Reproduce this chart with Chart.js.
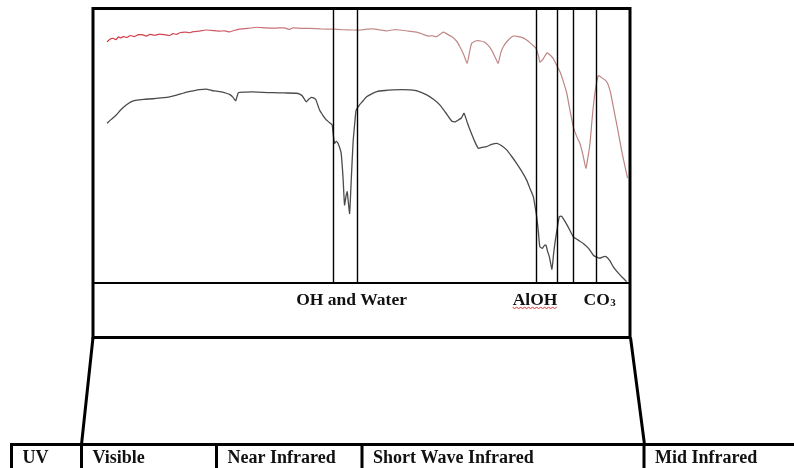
<!DOCTYPE html>
<html>
<head>
<meta charset="utf-8">
<script src="https://cdn.jsdelivr.net/npm/chart.js@4.4.1/dist/chart.umd.min.js"></script>
<style>
  html, body { margin: 0; padding: 0; background: #ffffff; }
  #wrap { width: 794px; height: 468px; position: relative; }
</style>
</head>
<body>
<div id="wrap"><canvas id="c" width="794" height="468"></canvas></div>
<script>
// ---- Data (wavelength in nm, relative reflectance) ----
const redWavelengths = [348,360,373,385,395,405,414,430,445,460,478,496,510,525,545,565,585,606,620,635,648,670,690,703,730,756,785,813,835,854,875,895,930,964,1000,1046,1080,1102,1115,1150,1184,1230,1280,1320,1363,1392,1420,1447,1475,1502,1530,1557,1590,1626,1650,1673,1690,1708,1735,1750,1770,1790,1804,1820,1834,1845,1853,1873,1890,1907,1920,1935,1950,1962,1972,1983,2000,2024,2040,2059,2075,2093,2118,2130,2134,2145,2155,2164,2175,2189,2200,2217,2230,2245,2260,2272,2285,2299,2312,2324,2332,2341,2350,2361,2375,2392,2410,2425,2437,2455,2471,2485,2496];
const redValues = [87.7,88.6,89.0,88.5,89.5,89.1,89.6,89.3,90.0,89.6,90.3,90.2,89.8,90.4,90.1,90.5,90.3,90.0,90.7,90.4,91.0,91.2,91.0,91.4,91.6,92.0,91.8,91.6,91.7,91.3,91.9,92.3,92.6,93.0,92.8,92.7,92.8,92.2,92.8,92.6,92.6,92.4,92.3,92.1,92.0,92.0,92.3,92.4,92.0,91.7,92.1,92.0,91.6,91.2,90.5,89.8,89.9,89.6,91.2,90.6,89.6,88.0,85.9,83.0,79.9,84.5,87.2,88.1,88.0,87.5,86.5,84.7,82.0,79.9,83.5,85.9,88.0,89.8,89.7,89.3,88.6,87.4,85.3,82.0,80.3,81.1,82.6,83.7,83.0,81.7,79.8,76.8,73.5,69.0,62.0,56.8,53.5,50.8,46.5,41.7,45.5,50.8,60.0,69.0,75.4,74.5,73.2,69.5,64.1,56.0,48.4,42.5,38.1];

const blackWavelengths = [348,365,386,405,427,445,469,500,538,570,606,635,661,685,703,730,757,780,799,820,840,855,868,879,890,920,950,990,1033,1080,1129,1145,1154,1170,1180,1191,1200,1209,1225,1240,1253,1270,1277,1282,1287,1294,1301,1314,1322,1328,1334,1339,1344,1349,1356,1363,1370,1376,1390,1401,1419,1440,1461,1495,1529,1565,1598,1630,1667,1695,1722,1745,1770,1785,1798,1810,1821,1834,1846,1865,1880,1895,1914,1935,1956,1975,1997,2018,2038,2060,2079,2095,2107,2114,2121,2128,2134,2145,2152,2159,2166,2173,2184,2190,2196,2205,2214,2222,2230,2250,2272,2292,2313,2335,2354,2368,2382,2395,2407,2422,2437,2458,2478,2492];
const blackValues = [58.1,59.5,61.1,63.0,64.7,65.8,66.5,66.8,67.0,67.3,67.7,68.3,69.0,69.6,69.9,70.3,70.5,70.0,69.8,69.5,69.0,68.5,67.5,66.3,69.2,69.4,69.5,69.3,69.2,69.1,69.0,68.6,68.0,65.9,66.8,67.5,67.3,66.8,62.9,60.8,59.3,58.0,57.5,53.5,50.8,51.5,50.8,47.2,38.0,28.4,31.5,33.2,29.0,25.3,38.0,50.8,58.0,62.9,64.8,65.9,67.7,68.8,69.6,70.0,70.2,70.3,70.2,69.8,68.4,66.8,64.7,62.0,58.9,58.6,59.3,60.0,61.7,58.5,55.6,51.5,49.0,49.3,49.6,50.4,50.8,50.0,48.4,46.0,43.5,40.5,37.5,34.0,31.4,28.0,24.1,18.5,13.2,12.6,13.6,13.8,11.5,9.6,5.0,10.0,14.4,19.5,24.1,24.3,23.5,20.5,16.8,15.6,14.4,12.6,10.2,9.4,9.0,9.5,9.6,8.2,5.9,3.6,1.7,0.5];

// absorption-feature marker lines (nm)
const featureLines = [1280, 1379, 2120, 2206, 2269, 2365];
// feature labels and their centre wavelength (nm)
const featureLabels = ["OH and Water", "AlOH", "CO3"];
const featureLabelCenters = [1357, 2114, 2380];

// electromagnetic regions shown in the lower band
const regionNames = ["UV", "Visible", "Near Infrared", "Short Wave Infrared", "Mid Infrared"];

// ---- Layout (pixels) ----
const LAYOUT = {
  boxLeft: 93, boxTop: 8.5, boxRight: 630, boxBottom: 337.5,
  axisY: 283,
  labelBaseline: 304.5,
  tableTop: 444.5, tableLeft: 10,
  regionEdges: [11.5, 81.5, 216.5, 362, 644],
  regionTextBaseline: 463,
  trapLeftBottom: 81.5, trapRightBottom: 644.5
};

const FONT = "bold 18px 'Liberation Serif', 'Times New Roman', serif";
const FONT_TOP = "bold 17.5px 'Liberation Serif', 'Times New Roman', serif";

const diagramPlugin = {
  id: 'diagram',
  afterDatasetsDraw(chart) {
    const ctx = chart.ctx;
    const xs = chart.scales.x;
    const L = LAYOUT;
    ctx.save();
    ctx.strokeStyle = '#000';
    ctx.fillStyle = '#000';
    ctx.lineCap = 'butt';

    // feature marker lines
    ctx.lineWidth = 1.4;
    featureLines.forEach(nm => {
      const px = Math.round(xs.getPixelForValue(nm)) + 0.5;
      ctx.beginPath();
      ctx.moveTo(px, L.boxTop);
      ctx.lineTo(px, L.axisY);
      ctx.stroke();
    });

    // axis line
    ctx.lineWidth = 2;
    ctx.beginPath();
    ctx.moveTo(L.boxLeft, L.axisY);
    ctx.lineTo(L.boxRight, L.axisY);
    ctx.stroke();

    // outer box
    ctx.lineWidth = 3;
    ctx.lineJoin = 'miter';
    ctx.strokeRect(L.boxLeft, L.boxTop, L.boxRight - L.boxLeft, L.boxBottom - L.boxTop);

    // trapezoid connectors
    ctx.beginPath();
    ctx.moveTo(L.boxLeft, L.boxBottom);
    ctx.lineTo(L.trapLeftBottom, L.tableTop);
    ctx.moveTo(L.boxRight + 0.5, L.boxBottom);
    ctx.lineTo(L.trapRightBottom, L.tableTop);
    ctx.stroke();

    // region table
    ctx.beginPath();
    ctx.moveTo(L.tableLeft, L.tableTop);
    ctx.lineTo(794, L.tableTop);
    L.regionEdges.forEach(x => {
      ctx.moveTo(x, L.tableTop - 1.5);
      ctx.lineTo(x, 470);
    });
    ctx.stroke();

    // region names
    ctx.font = FONT;
    ctx.textAlign = 'left';
    ctx.textBaseline = 'alphabetic';
    ctx.fillStyle = '#111';
    regionNames.forEach((name, i) => {
      ctx.fillText(name, L.regionEdges[i] + 11, L.regionTextBaseline);
    });

    // feature labels
    ctx.font = FONT_TOP;
    featureLabels.forEach((lab, i) => {
      const cx = xs.getPixelForValue(featureLabelCenters[i]);
      if (lab === "CO3") {
        ctx.font = FONT_TOP;
        const w1 = ctx.measureText("CO").width;
        ctx.font = "bold 11px 'Liberation Serif', 'Times New Roman', serif";
        const w2 = ctx.measureText("3").width;
        const start = cx - (w1 + w2) / 2;
        ctx.textAlign = 'left';
        ctx.font = FONT_TOP;
        ctx.fillText("CO", start, L.labelBaseline);
        ctx.font = "bold 11px 'Liberation Serif', 'Times New Roman', serif";
        ctx.fillText("3", start + w1 + 0.5, L.labelBaseline + 1.5);
      } else {
        ctx.font = FONT_TOP;
        ctx.textAlign = 'center';
        ctx.fillText(lab, cx, L.labelBaseline);
        if (lab === "AlOH") {
          // spell-check squiggle
          const w = ctx.measureText(lab).width;
          ctx.strokeStyle = '#d83030';
          ctx.lineWidth = 1;
          ctx.beginPath();
          let x0 = cx - w / 2;
          for (let x = x0, k = 0; x <= cx + w / 2; x += 2, k++) {
            const y = L.labelBaseline + 3 + (k % 2 ? 1 : -0.2);
            if (k === 0) ctx.moveTo(x, y); else ctx.lineTo(x, y);
          }
          ctx.stroke();
          ctx.strokeStyle = '#000';
        }
      }
    });
    ctx.restore();
  }
};

function toXY(xs, ys) { return xs.map((x, i) => ({ x: x, y: ys[i] })); }

new Chart(document.getElementById('c'), {
  type: 'line',
  data: {
    datasets: [
      {
        label: 'Sample 1',
        data: toXY(redWavelengths, redValues),
        borderWidth: 1.2,
        pointRadius: 0,
        tension: 0.15,
        borderColor: function (context) {
          const chart = context.chart;
          const area = chart.chartArea;
          if (!area) return 'rgb(200,80,90)';
          const g = chart.ctx.createLinearGradient(area.left, 0, area.right, 0);
          g.addColorStop(0, 'rgb(215,35,50)');
          g.addColorStop(0.22, 'rgb(205,90,100)');
          g.addColorStop(0.45, 'rgb(195,140,140)');
          g.addColorStop(1, 'rgb(190,130,130)');
          return g;
        }
      },
      {
        label: 'Sample 2',
        data: toXY(blackWavelengths, blackValues),
        borderColor: 'rgb(75,75,75)',
        borderWidth: 1.3,
        pointRadius: 0,
        tension: 0.15
      }
    ]
  },
  options: {
    responsive: false,
    animation: false,
    devicePixelRatio: 1,
    layout: { padding: { left: 93, top: 8, right: 164, bottom: 185 } },
    plugins: { legend: { display: false }, tooltip: { enabled: false } },
    scales: {
      x: { type: 'linear', min: 290, max: 2506, display: false },
      y: { type: 'linear', min: 0, max: 100, display: false }
    }
  },
  plugins: [diagramPlugin]
});
</script>
</body>
</html>
